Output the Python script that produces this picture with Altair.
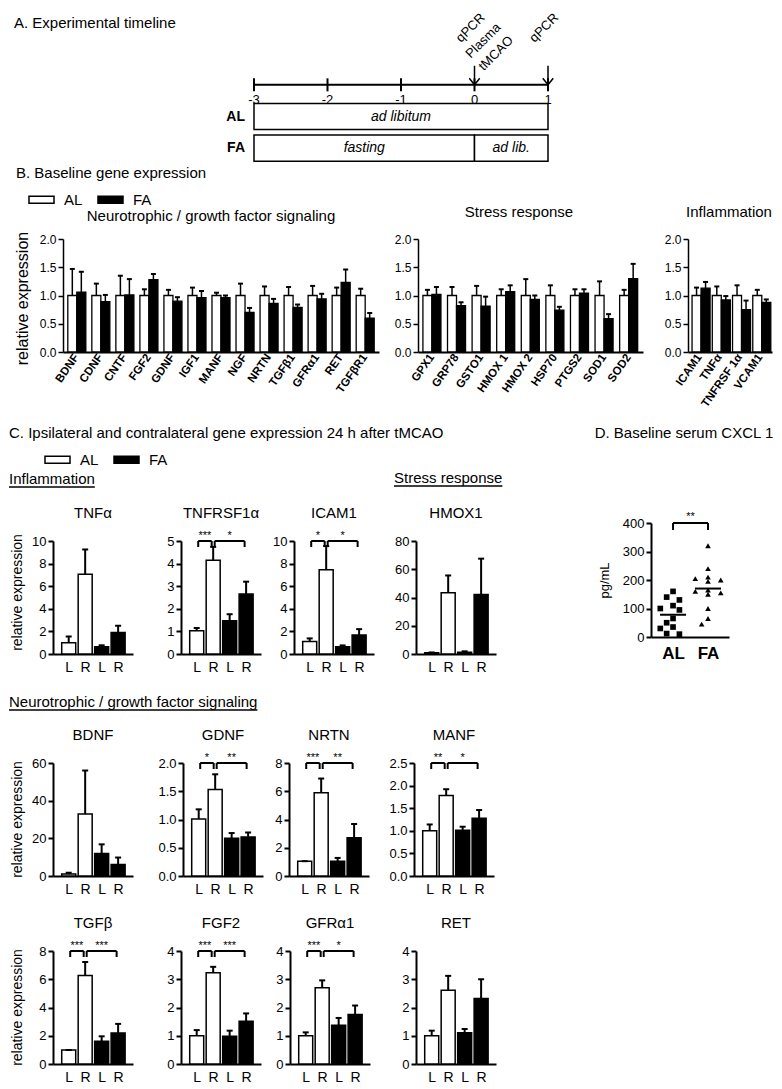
import altair as alt
import numpy as np
import pandas as pd

FONT = "Liberation Sans"
GROUPS = ["AL", "FA"]
GROUP_FILL = ["white", "black"]

# ---------------- A. experimental timeline ----------------
days = [-3, -2, -1, 0, 1]
day_labels = ["-3", "-2", "-1", "0", "1"]
diet_row = ["AL", "FA", "FA"]
diet_start = [-3, -3, 0]
diet_end = [1, 0, 1]
diet_text = ["ad libitum", "fasting", "ad lib."]
event_day = [0, 1]
event_text = ["qPCR\nPlasma\ntMCAO", "qPCR\n"]

# ---------------- B. baseline gene expression ----------------
neuro_genes = ["BDNF", "CDNF", "CNTF", "FGF2", "GDNF", "IGF1", "MANF", "NGF", "NRTN",
               "TGFβ1", "GFRα1", "RET", "TGFβR1"]
neuro_al = [1.0, 1.0, 1.0, 1.0, 1.0, 1.0, 1.0, 1.0, 1.0, 1.0, 1.0, 1.0, 1.0]
neuro_al_err = [0.47, 0.21, 0.35, 0.11, 0.10, 0.14, 0.05, 0.21, 0.16, 0.15, 0.17, 0.14, 0.12]
neuro_fa = [1.06, 0.89, 1.01, 1.28, 0.90, 0.96, 0.96, 0.70, 0.86, 0.79, 0.94, 1.23, 0.60]
neuro_fa_err = [0.36, 0.12, 0.28, 0.10, 0.07, 0.12, 0.04, 0.08, 0.08, 0.05, 0.09, 0.23, 0.09]

stress_genes = ["GPX1", "GRP78", "GSTO1", "HMOX 1", "HMOX 2", "HSP70", "PTGS2", "SOD1", "SOD2"]
stress_al = [1.0, 1.0, 1.0, 1.0, 1.0, 1.0, 1.0, 1.0, 1.0]
stress_al_err = [0.10, 0.15, 0.17, 0.11, 0.29, 0.18, 0.11, 0.25, 0.10]
stress_fa = [1.02, 0.82, 0.81, 1.07, 0.93, 0.74, 1.04, 0.59, 1.30]
stress_fa_err = [0.13, 0.06, 0.17, 0.11, 0.07, 0.06, 0.07, 0.08, 0.26]

infl_genes = ["ICAM1", "TNFα", "TNFRSF 1α", "VCAM1"]
infl_al = [1.0, 1.0, 1.0, 1.0]
infl_al_err = [0.14, 0.16, 0.18, 0.10]
infl_fa = [1.13, 0.92, 0.75, 0.88]
infl_fa_err = [0.11, 0.07, 0.16, 0.05]

# ---------------- C. 24 h after tMCAO ----------------
cond_group = ["AL", "AL", "FA", "FA"]
cond_side = ["L", "R", "L", "R"]
c_mean = {
    "TNFα": [1.0, 7.05, 0.65, 1.9],
    "TNFRSF1α": [1.03, 4.15, 1.47, 2.65],
    "ICAM1": [1.1, 7.45, 0.65, 1.68],
    "HMOX1": [0.8, 43.4, 1.2, 42.2],
    "BDNF": [1.05, 32.9, 11.9, 6.1],
    "GDNF": [1.01, 1.53, 0.67, 0.69],
    "NRTN": [1.05, 5.9, 1.05, 2.7],
    "MANF": [1.0, 1.78, 1.01, 1.28],
    "TGFβ": [1.0, 6.27, 1.61, 2.2],
    "FGF2": [1.0, 3.23, 0.98, 1.51],
    "GFRα1": [1.0, 2.7, 1.37, 1.75],
    "RET": [1.0, 2.61, 1.11, 2.32],
}
c_sem = {
    "TNFα": [0.55, 2.2, 0.12, 0.6],
    "TNFRSF1α": [0.12, 0.59, 0.29, 0.55],
    "ICAM1": [0.28, 2.1, 0.11, 0.52],
    "HMOX1": [0.3, 12.2, 0.7, 25.3],
    "BDNF": [0.7, 23.1, 4.9, 3.7],
    "GDNF": [0.17, 0.27, 0.09, 0.08],
    "NRTN": [0.0, 1.0, 0.23, 0.98],
    "MANF": [0.14, 0.14, 0.08, 0.18],
    "TGFβ": [0.0, 0.95, 0.35, 0.64],
    "FGF2": [0.2, 0.21, 0.2, 0.28],
    "GFRα1": [0.12, 0.26, 0.26, 0.32],
    "RET": [0.18, 0.51, 0.13, 0.68],
}
c_axis_max = {"TNFα": 10, "TNFRSF1α": 5, "ICAM1": 10, "HMOX1": 80, "BDNF": 60, "GDNF": 2.0,
              "NRTN": 8, "MANF": 2.5, "TGFβ": 8, "FGF2": 4, "GFRα1": 4, "RET": 4}
c_axis_step = {"TNFα": 2, "TNFRSF1α": 1, "ICAM1": 2, "HMOX1": 20, "BDNF": 20, "GDNF": 0.5,
               "NRTN": 2, "MANF": 0.5, "TGFβ": 2, "FGF2": 1, "GFRα1": 1, "RET": 1}
c_sig = {
    "TNFRSF1α": [(0, 1, "***"), (1, 3, "*")],
    "ICAM1": [(0, 1, "*"), (1, 3, "*")],
    "GDNF": [(0, 1, "*"), (1, 3, "**")],
    "NRTN": [(0, 1, "***"), (1, 3, "**")],
    "MANF": [(0, 1, "**"), (1, 3, "*")],
    "TGFβ": [(0, 1, "***"), (1, 3, "***")],
    "FGF2": [(0, 1, "***"), (1, 3, "***")],
    "GFRα1": [(0, 1, "***"), (1, 3, "*")],
}

# ---------------- D. baseline serum CXCL1 ----------------
cxcl_al = [160, 140, 130, 110, 100, 95, 65, 50, 35, 30, 12, 10]
cxcl_fa = [320, 240, 210, 205, 200, 195, 165, 160, 155, 150, 100, 65, 45]
d_sig = [(0, 1, "**")]

# ======================================================================
ARIAL = {" ": 278, "/": 278, "I": 278, "S": 667, "N": 722, "a": 556, "c": 500, "e": 556,
         "f": 278, "g": 556, "h": 556, "i": 222, "l": 222, "m": 833, "n": 556, "o": 556,
         "p": 556, "r": 333, "s": 500, "t": 278, "u": 556, "w": 722}

X0 = 52  # page x of the first plot of every row (rows share this origin)


def text_width(s, size):
    return sum(ARIAL.get(ch, 556) for ch in s) * size / 1000.0


def txt(s, x, y, size=15, align="left", weight="normal"):
    return alt.Chart(pd.DataFrame({"s": [s]})).mark_text(
        align=align, baseline="middle", font=FONT, fontSize=size, fontWeight=weight,
        color="black").encode(x=alt.value(x), y=alt.value(y), text="s:N")


def heading(s, x, y, size=15):
    w = text_width(s, size)
    line = alt.Chart(pd.DataFrame({"s": [s]})).mark_rule(color="black", strokeWidth=1.3).encode(
        x=alt.value(x), x2=alt.value(x + w), y=alt.value(y + 8))
    return [txt(s, x, y, size), line]


def anchor(y1, y2):
    # invisible guide fixing the vertical extent and left edge of a row
    return alt.Chart(pd.DataFrame({"s": [0]})).mark_rule(opacity=0).encode(
        x=alt.value(8 - X0), y=alt.value(y1), y2=alt.value(y2))


def bar_legend(lx, ly):
    return alt.Legend(orient="none", legendX=lx, legendY=ly, direction="horizontal", title=None,
                      symbolType="M-1,-0.28H1V0.28H-1Z", symbolSize=625,
                      symbolStrokeColor="black", symbolStrokeWidth=1.5, symbolOpacity=1,
                      labelFontSize=15, labelFont=FONT, labelColor="black", labelOffset=9,
                      columnPadding=12, padding=0)


def color_enc(legend=None):
    return alt.Color("grp:N", scale=alt.Scale(domain=GROUPS, range=GROUP_FILL), legend=legend)


# ---------------- panel A ----------------
A_LEFT, A_RIGHT = 253, 547
A_H = 95
ysc_A = alt.Scale(domain=["t"] + GROUPS, paddingInner=0.175, paddingOuter=0.0875)
xsc_A = alt.Scale(domain=[min(days), max(days)], range=[A_LEFT - X0, A_RIGHT - X0],
                  nice=False, zero=False)
YA = alt.Y("row:N", scale=ysc_A, axis=None)

df_diet = pd.DataFrame({"row": diet_row, "start": diet_start, "end": diet_end, "label": diet_text})
df_diet["mid"] = (df_diet["start"] + df_diet["end"]) / 2
df_rows = pd.DataFrame({"row": GROUPS, "x0": [min(days)] * len(GROUPS)})
df_days = pd.DataFrame({"day": days, "label": day_labels, "row": ["t"] * len(days)})
df_ev = pd.DataFrame({"day": event_day, "text": event_text, "row": ["t"] * len(event_day)})

ARROW = "M0,-1L0,1M-0.55,0.3L0,1L0.55,0.3"
boxes = alt.Chart(df_diet).mark_rect(fill="white", stroke="black", strokeWidth=1.5).encode(
    x=alt.X("start:Q", scale=xsc_A, axis=None), x2="end:Q", y=YA)
box_txt = alt.Chart(df_diet).mark_text(fontStyle="italic", fontSize=14, font=FONT, color="black").encode(
    x=alt.X("mid:Q", scale=xsc_A, axis=None), y=YA, text="label:N")
row_txt = alt.Chart(df_rows).mark_text(align="right", dx=-9, fontWeight="bold", fontSize=14,
                                       font=FONT, color="black").encode(
    x=alt.X("x0:Q", scale=xsc_A, axis=None), y=YA, text="row:N")
tl_line = alt.Chart(df_days).mark_rule(strokeWidth=2, color="black").encode(
    x=alt.X("min(day):Q", scale=xsc_A, axis=None), x2="max(day):Q", y=YA)
tl_ticks = alt.Chart(df_days).mark_tick(orient="vertical", size=13, thickness=2, color="black", opacity=1).encode(
    x=alt.X("day:Q", scale=xsc_A, axis=None), y=YA)
tl_lab = alt.Chart(df_days).mark_text(dy=15, fontSize=13, font=FONT, color="black").encode(
    x=alt.X("day:Q", scale=xsc_A, axis=None), y=YA, text="label:N")
tl_arrow = alt.Chart(df_ev).mark_point(shape=ARROW, size=361, filled=False, strokeWidth=1.5,
                                       color="black", opacity=1, yOffset=-9.5).encode(
    x=alt.X("day:Q", scale=xsc_A, axis=None), y=YA)
tl_ann = alt.Chart(df_ev).mark_text(angle=315, align="center", baseline="bottom", lineBreak="\n",
                                    fontSize=13, lineHeight=18, font=FONT, color="black",
                                    xOffset=1, yOffset=-52).encode(
    x=alt.X("day:Q", scale=xsc_A, axis=None), y=YA, text="text:N")

row_a = alt.layer(
    boxes, box_txt, row_txt, tl_line, tl_ticks, tl_lab, tl_arrow, tl_ann,
    txt("A. Experimental timeline", 13 - X0, -46),
    anchor(-61, 95),
).properties(width=A_RIGHT - X0, height=A_H)


# ---------------- panel B ----------------
B_H = 113


def b_panel(genes, al, al_e, fa, fa_e, W, x_start, w_vis, extras, legend=None, ytitle=False):
    n = len(genes)
    df = pd.DataFrame({"gene": genes * 2, "grp": ["AL"] * n + ["FA"] * n,
                       "v": al + fa, "e": al_e + fa_e})
    df["top"] = df["v"] + df["e"]
    xs = alt.Scale(domain=genes, range=[x_start, x_start + w_vis], paddingInner=0.25, paddingOuter=0.2)
    xax = alt.Axis(title=None, labelAngle=305, labelFontWeight="bold", labelFontSize=11.5,
                   ticks=False, labelPadding=3, domainWidth=2, labelAlign="right",
                   labelBaseline="middle", labelFont=FONT)
    ys = alt.Scale(domain=[0, 2], nice=False)
    yax = alt.Axis(values=[0, 0.5, 1, 1.5, 2], format=".1f", labelFontSize=12, tickSize=5,
                   tickWidth=1.5, domainWidth=1.5, labelPadding=2, offset=-x_start,
                   title="relative expression" if ytitle else None,
                   titleX=-41, titleY=59, titleAngle=270, titleAlign="center",
                   titleBaseline="middle", titleFontSize=16, titleFontWeight="normal")
    X = alt.X("gene:N", scale=xs, axis=xax)
    XO = alt.XOffset("grp:N", scale=alt.Scale(domain=GROUPS, paddingInner=0, paddingOuter=0))
    base = alt.Chart(df).encode(x=X, xOffset=XO)
    bars = base.mark_bar(stroke="black", strokeWidth=1.3).encode(
        y=alt.Y("v:Q", scale=ys, axis=yax, stack=None), color=color_enc(legend))
    err = base.mark_rule(strokeWidth=1.5, color="black").encode(
        y=alt.Y("v:Q", scale=ys, axis=yax, stack=None), y2="top:Q")
    cap = base.mark_tick(orient="horizontal", size=5, thickness=2, color="black", opacity=1).encode(
        y=alt.Y("top:Q", scale=ys, axis=yax))
    return alt.layer(bars, err, cap, *extras).properties(width=W, height=B_H)


B_LEFT = 62
b_left = b_panel(neuro_genes, neuro_al, neuro_al_err, neuro_fa, neuro_fa_err, 417 - X0, B_LEFT - X0, 316,
                 [txt("B. Baseline gene expression", 15 - X0, -66),
                  txt("Neurotrophic / growth factor signaling", 210 - X0, -23, align="center"),
                  anchor(-75, 169)],
                 legend=bar_legend(27 - X0, -53), ytitle=True)
b_stress = b_panel(stress_genes, stress_al, stress_al_err, stress_fa, stress_fa_err, 270, 0, 225,
                   [txt("Stress response", 101, -27, align="center")])
b_infl = b_panel(infl_genes, infl_al, infl_al_err, infl_fa, infl_fa_err, 84, 0, 84,
                 [txt("Inflammation", 41, -27, align="center")])

row_b = alt.hconcat(b_left, b_stress, b_infl, spacing=0, bounds="flush").resolve_scale(color="independent")

# ---------------- panel C ----------------
C_W, C_H = 80, 113
side_expr = "[" + ",".join("'%s'" % s for s in cond_side) + "][datum.value]"


def c_panel(gene, W, extras=(), legend=None, ytitle_x=None, ytitle_y=56):
    n = len(cond_side)
    vals, errs = c_mean[gene], c_sem[gene]
    ymax, step = c_axis_max[gene], c_axis_step[gene]
    df = pd.DataFrame({"pos": list(range(n)), "grp": cond_group, "v": vals, "e": errs})
    df["top"] = df["v"] + df["e"]
    xs = alt.Scale(domain=[-0.65, n - 0.4], range=[0, C_W], nice=False, zero=False)
    xax = alt.Axis(values=list(range(n)), labelExpr=side_expr, ticks=False, domainWidth=2,
                   labelFontSize=14, labelPadding=6, title=None, labelAngle=0, labelFont=FONT)
    nt = int(round(ymax / step))
    tick_vals = [round(k * step, 3) for k in range(nt + 1)]
    fmt = ".1f" if step < 1 else "d"
    ys = alt.Scale(domain=[0, ymax], nice=False)
    yax = alt.Axis(values=tick_vals, format=fmt, labelFontSize=13, tickSize=5, tickWidth=2,
                   domainWidth=2, labelPadding=2,
                   title="relative expression" if ytitle_x is not None else None,
                   titleX=ytitle_x if ytitle_x is not None else -36, titleY=ytitle_y,
                   titleAngle=270, titleAlign="center", titleBaseline="middle",
                   titleFontSize=14, titleFontWeight="normal")
    X = alt.X("pos:Q", scale=xs, axis=xax)
    base = alt.Chart(df).encode(x=X)
    layers = [
        base.mark_bar(orient="vertical", width=14, stroke="black", strokeWidth=1.5).encode(
            y=alt.Y("v:Q", scale=ys, axis=yax, stack=None), color=color_enc(legend)),
        base.mark_rule(strokeWidth=2, color="black").encode(
            y=alt.Y("v:Q", scale=ys, axis=yax, stack=None), y2="top:Q"),
        base.mark_tick(orient="horizontal", size=6, thickness=2, color="black", opacity=1).encode(
            y=alt.Y("top:Q", scale=ys, axis=yax)),
    ]
    if gene in c_sig:
        sig = c_sig[gene]
        bdf = pd.DataFrame({"x1": [s[0] for s in sig], "x2": [s[1] for s in sig],
                            "lab": [s[2] for s in sig], "lvl": [ymax] * len(sig)})
        bdf["mid"] = (bdf["x1"] + bdf["x2"]) / 2
        bb = alt.Chart(bdf)
        layers += [
            bb.mark_rule(strokeWidth=2, color="black", xOffset=1.5, x2Offset=-1.5).encode(
                x=alt.X("x1:Q", scale=xs, axis=xax), x2="x2:Q", y=alt.Y("lvl:Q", scale=ys, axis=yax)),
            bb.mark_rule(strokeWidth=2, color="black", xOffset=1.5, y2Offset=6).encode(
                x=alt.X("x1:Q", scale=xs, axis=xax), y=alt.Y("lvl:Q", scale=ys, axis=yax), y2="lvl:Q"),
            bb.mark_rule(strokeWidth=2, color="black", xOffset=-1.5, y2Offset=6).encode(
                x=alt.X("x2:Q", scale=xs, axis=xax), y=alt.Y("lvl:Q", scale=ys, axis=yax), y2="lvl:Q"),
            bb.mark_text(baseline="alphabetic", dy=-2, fontSize=11, font=FONT, color="black").encode(
                x=alt.X("mid:Q", scale=xs, axis=xax), y=alt.Y("lvl:Q", scale=ys, axis=yax), text="lab:N"),
        ]
    layers.append(txt(gene, C_W / 2, -28, size=15, align="center"))
    layers += list(extras)
    return alt.layer(*layers).properties(width=W, height=C_H)


def swarm(values, ypx=0.285, xpx=35.0, d=7.5):
    order = sorted(range(len(values)), key=lambda i: -values[i])
    placed, offs = [], [0.0] * len(values)
    for i in order:
        y = values[i] * ypx
        for k in (0, -1, 1, -2, 2, -3, 3):
            xo = k * d * 0.85
            if all((xo - px) ** 2 + (y - py) ** 2 >= d * d for px, py in placed):
                offs[i] = xo / xpx
                placed.append((xo, y))
                break
    return offs


def d_panel():
    grp = ["AL"] * len(cxcl_al) + ["FA"] * len(cxcl_fa)
    gpos = [GROUPS.index(g) for g in grp]
    offs = swarm(cxcl_al) + swarm(cxcl_fa)
    df = pd.DataFrame({"grp": grp, "gpos": gpos, "v": cxcl_al + cxcl_fa})
    df["xj"] = df["gpos"] + np.array(offs)
    xs = alt.Scale(domain=[-0.63, 1.6], range=[0, 78], nice=False, zero=False)
    xax = alt.Axis(values=[0, 1], labelExpr="['AL','FA'][datum.value]", labelFontSize=17,
                   labelFontWeight="bold", ticks=False, labelPadding=8, domainWidth=2,
                   title=None, labelAngle=0, labelFont=FONT)
    ys = alt.Scale(domain=[0, 400], range=[96, -18], nice=False)
    yax = alt.Axis(values=[0, 100, 200, 300, 400], labelFontSize=13, tickSize=5, tickWidth=2,
                   domainWidth=2, labelPadding=2, title="pg/mL", titleX=-47, titleY=39,
                   titleAngle=270, titleAlign="center", titleBaseline="middle",
                   titleFontSize=13, titleFontWeight="normal")
    pts = alt.Chart(df).mark_point(filled=True, size=32, color="black", opacity=1).encode(
        x=alt.X("xj:Q", scale=xs, axis=xax), y=alt.Y("v:Q", scale=ys, axis=yax),
        shape=alt.Shape("grp:N", scale=alt.Scale(domain=GROUPS, range=["square", "triangle-up"]),
                        legend=None))
    mean = alt.Chart(df).mark_tick(orient="horizontal", size=26, thickness=2, color="black", opacity=1).encode(
        x=alt.X("gpos:Q", scale=xs, axis=xax), y=alt.Y("mean(v):Q", scale=ys, axis=yax))
    bdf = pd.DataFrame({"x1": [s[0] for s in d_sig], "x2": [s[1] for s in d_sig],
                        "lab": [s[2] for s in d_sig], "lvl": [400] * len(d_sig)})
    bdf["mid"] = (bdf["x1"] + bdf["x2"]) / 2
    bb = alt.Chart(bdf)
    br = [
        bb.mark_rule(strokeWidth=2, color="black").encode(
            x=alt.X("x1:Q", scale=xs, axis=xax), x2="x2:Q", y=alt.Y("lvl:Q", scale=ys, axis=yax)),
        bb.mark_rule(strokeWidth=2, color="black", y2Offset=7).encode(
            x=alt.X("x1:Q", scale=xs, axis=xax), y=alt.Y("lvl:Q", scale=ys, axis=yax), y2="lvl:Q"),
        bb.mark_rule(strokeWidth=2, color="black", y2Offset=7).encode(
            x=alt.X("x2:Q", scale=xs, axis=xax), y=alt.Y("lvl:Q", scale=ys, axis=yax), y2="lvl:Q"),
        bb.mark_text(baseline="alphabetic", dy=-3, fontSize=11, font=FONT, color="black").encode(
            x=alt.X("mid:Q", scale=xs, axis=xax), y=alt.Y("lvl:Q", scale=ys, axis=yax), text="lab:N"),
    ]
    return alt.layer(pts, mean, *br, txt("D. Baseline serum CXCL 1", 33, -108, align="center")
                     ).properties(width=78, height=96)


row_c1 = alt.hconcat(
    c_panel("TNFα", 180 - X0,
            extras=[txt("C. Ipsilateral and contralateral gene expression 24 h after tMCAO", 8 - X0, -108),
                    *heading("Inflammation", 8 - X0, -62), anchor(-132, 146)],
            legend=bar_legend(43 - X0, -95), ytitle_x=-36, ytitle_y=51),
    c_panel("TNFRSF1α", 113),
    c_panel("ICAM1", 122),
    c_panel("HMOX1", 235, extras=heading("Stress response", -22, -63)),
    d_panel(),
    spacing=0, bounds="flush").resolve_scale(color="independent", shape="independent")

row_c2 = alt.hconcat(
    c_panel("BDNF", 182 - X0,
            extras=[*heading("Neurotrophic / growth factor signaling", 8 - X0, -61), anchor(-76, 144)],
            ytitle_x=-36),
    c_panel("GDNF", 106),
    c_panel("NRTN", 125),
    c_panel("MANF", 80),
    spacing=0, bounds="flush").resolve_scale(color="independent")

row_c3 = alt.hconcat(
    c_panel("TGFβ", 180 - X0, extras=[anchor(-44, 134)], ytitle_x=-36),
    c_panel("FGF2", 109),
    c_panel("GFRα1", 126),
    c_panel("RET", 80),
    spacing=0, bounds="flush").resolve_scale(color="independent")

chart = alt.vconcat(row_a, row_b, row_c1, row_c2, row_c3, spacing=0).resolve_scale(
    color="independent", shape="independent"
).properties(padding=0).configure_view(stroke=None).configure_axis(
    domainColor="black", tickColor="black", labelColor="black", titleColor="black",
    labelFont=FONT, titleFont=FONT, grid=False
)

chart.save("out.html", embed_options={"renderer": "svg", "actions": False})
